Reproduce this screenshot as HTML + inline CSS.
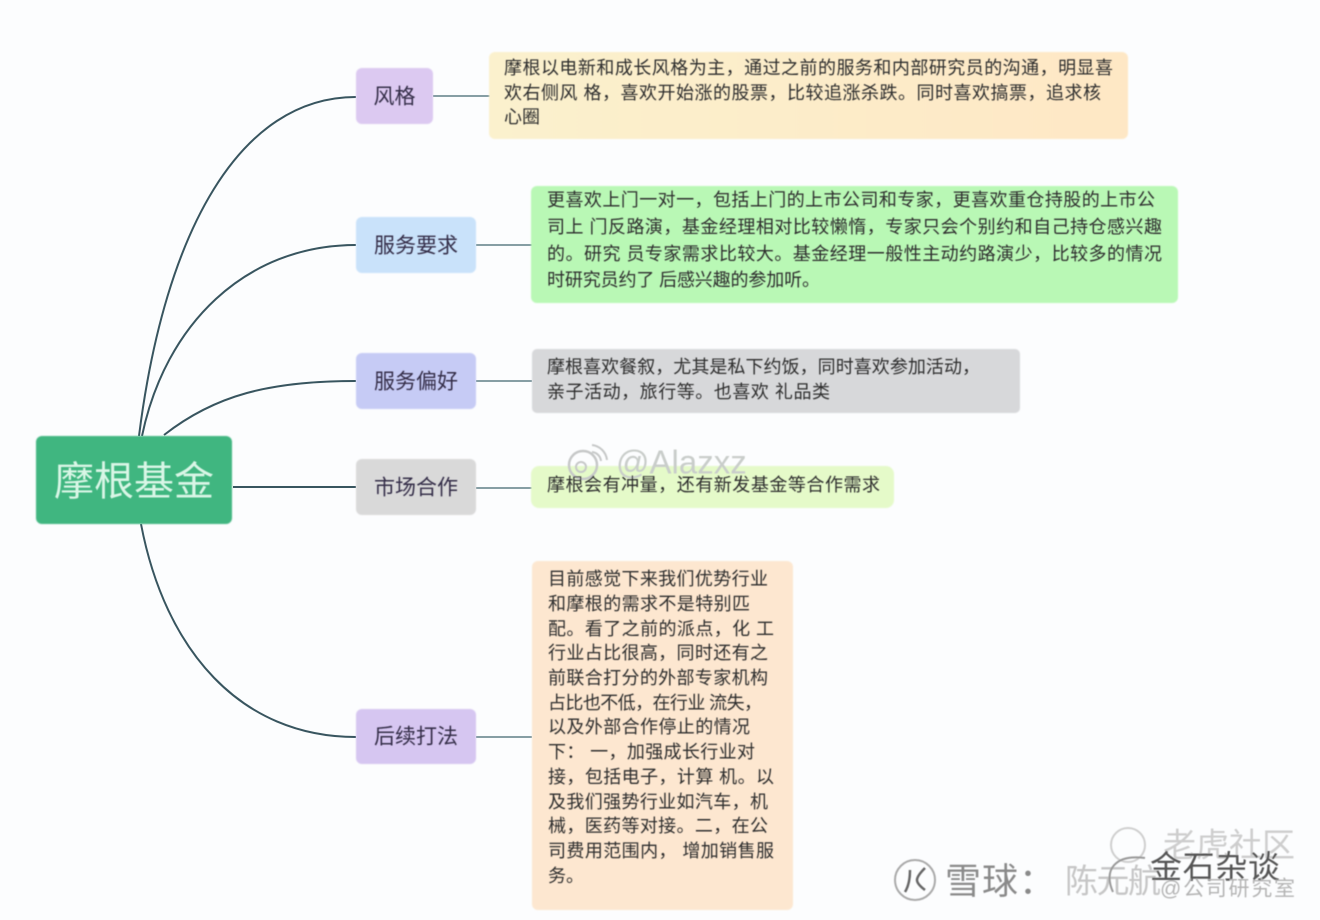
<!DOCTYPE html>
<html lang="zh">
<head>
<meta charset="utf-8">
<style>
html,body{margin:0;padding:0;background:#fcfdfe;width:1320px;height:920px;overflow:hidden}
svg{display:block}
text{font-family:"Liberation Sans","Noto Sans CJK SC",sans-serif;dominant-baseline:central}
.t{font-size:18px;fill:#2e2e2e}
.n{font-size:21px;fill:#352e48;text-anchor:middle}
.l{fill:none;stroke:#38555f;stroke-width:2}
.s{fill:none;stroke:#5f7f86;stroke-width:1.4}
</style>
</head>
<body>
<svg width="1320" height="920" viewBox="0 0 1320 920" xmlns="http://www.w3.org/2000/svg">
<defs>
<linearGradient id="g1" x1="0" y1="0" x2="1" y2="0"><stop offset="0" stop-color="#fbf1cd"/><stop offset="1" stop-color="#fee7c5"/></linearGradient>
<filter id="soft" x="-5%" y="-5%" width="110%" height="110%"><feGaussianBlur stdDeviation="0.4"/></filter>
<filter id="box" x="-5%" y="-5%" width="110%" height="110%"><feGaussianBlur stdDeviation="0.7"/></filter>
</defs>
<rect width="1320" height="920" fill="#fcfdfe"/>

<path class="l" d="M139 436C165 230 240 97 356 97"/>
<path class="l" d="M142 436C165 325 245 245 356 245"/>
<path class="l" d="M164 435C215 395 270 381 356 381"/>
<path class="l" d="M233 487H356"/>
<path class="l" d="M141 524C165 650 240 737 356 737"/>
<path class="s" d="M433 96H490M476 245H532M476 381H532M476 488H532M476 737H532"/>

<g filter="url(#box)">
<rect x="36" y="436" width="196" height="88" rx="6" fill="#3fb680"/>
<rect x="356" y="68" width="77" height="56" rx="6" fill="#dcc9f1"/>
<rect x="356" y="217" width="120" height="56" rx="6" fill="#c9e2fa"/>
<rect x="356" y="353" width="120" height="56" rx="6" fill="#c6cbf5"/>
<rect x="356" y="459" width="120" height="56" rx="6" fill="#d9d9d9"/>
<rect x="356" y="709" width="120" height="55" rx="6" fill="#d6c6f1"/>
<rect x="489" y="52" width="639" height="87" rx="6" fill="url(#g1)"/>
<rect x="531" y="186" width="647" height="117" rx="6" fill="#b9f8b5"/>
<rect x="532" y="349" width="488" height="64" rx="5" fill="#d7d8da"/>
<rect x="531" y="466" width="363" height="42" rx="8" fill="#e5fac9"/>
<rect x="532" y="561" width="261" height="349" rx="6" fill="#fde7d0"/>
</g>

<g filter="url(#soft)">
<text x="134" y="482" text-anchor="middle" font-size="40" fill="#d9f6e6" textLength="160" lengthAdjust="spacing">摩根基金</text>
<text class="n" x="394.500" y="97">风格</text>
<text class="n" x="416" y="246">服务要求</text>
<text class="n" x="416" y="382">服务偏好</text>
<text class="n" x="416" y="488">市场合作</text>
<text class="n" x="416" y="737">后续打法</text>

<text class="t" x="504" y="68" textLength="609" lengthAdjust="spacing">摩根以电新和成长风格为主，通过之前的服务和内部研究员的沟通，明显喜</text>
<text class="t" x="504" y="93" textLength="597" lengthAdjust="spacing">欢右侧风 格，喜欢开始涨的股票，比较追涨杀跌。同时喜欢搞票，追求核</text>
<text class="t" x="504" y="117" textLength="36" lengthAdjust="spacing">心圈</text>

<text class="t" x="547" y="200" textLength="608" lengthAdjust="spacing">更喜欢上门一对一，包括上门的上市公司和专家，更喜欢重仓持股的上市公</text>
<text class="t" x="547" y="227" textLength="615" lengthAdjust="spacing">司上 门反路演，基金经理相对比较懒惰，专家只会个别约和自己持仓感兴趣</text>
<text class="t" x="547" y="254" textLength="615" lengthAdjust="spacing">的。研究 员专家需求比较大。基金经理一般性主动约路演少，比较多的情况</text>
<text class="t" x="547" y="280" textLength="273" lengthAdjust="spacing">时研究员约了 后感兴趣的参加听。</text>

<text class="t" x="547" y="367" textLength="433" lengthAdjust="spacing">摩根喜欢餐叙，尤其是私下约饭，同时喜欢参加活动，</text>
<text class="t" x="547" y="392" textLength="283" lengthAdjust="spacing">亲子活动，旅行等。也喜欢 礼品类</text>

<text x="616" y="462" font-size="33" fill="#c9cdca">@Alazxz</text>
<circle cx="583" cy="465" r="14" fill="none" stroke="#c6c8c8" stroke-width="2.500"/>
<circle cx="581" cy="467" r="5" fill="none" stroke="#c6c8c8" stroke-width="2"/>
<path d="M592 445a17 17 0 0 1 15 15M592 452a10 10 0 0 1 9 9" fill="none" stroke="#c6c8c8" stroke-width="2"/>
<text class="t" x="547" y="485" textLength="333" lengthAdjust="spacing">摩根会有冲量，还有新发基金等合作需求</text>

<text class="t" x="548" y="579" textLength="220" lengthAdjust="spacing">目前感觉下来我们优势行业</text>
<text class="t" x="548" y="604" textLength="202" lengthAdjust="spacing">和摩根的需求不是特别匹</text>
<text class="t" x="548" y="629" textLength="226" lengthAdjust="spacing">配。看了之前的派点，化 工</text>
<text class="t" x="548" y="653" textLength="220" lengthAdjust="spacing">行业占比很高，同时还有之</text>
<text class="t" x="548" y="678" textLength="220" lengthAdjust="spacing">前联合打分的外部专家机构</text>
<text class="t" x="548" y="703" textLength="214" lengthAdjust="spacing">占比也不低，在行业 流失，</text>
<text class="t" x="548" y="727" textLength="202" lengthAdjust="spacing">以及外部合作停止的情况</text>
<text class="t" x="548" y="752" textLength="207" lengthAdjust="spacing">下： 一，加强成长行业对</text>
<text class="t" x="548" y="777" textLength="226" lengthAdjust="spacing">接，包括电子，计算 机。以</text>
<text class="t" x="548" y="802" textLength="220" lengthAdjust="spacing">及我们强势行业如汽车，机</text>
<text class="t" x="548" y="826" textLength="220" lengthAdjust="spacing">械，医药等对接。二，在公</text>
<text class="t" x="548" y="851" textLength="226" lengthAdjust="spacing">司费用范围内， 增加销售服</text>
<text class="t" x="548" y="876">务。</text>

<circle cx="915" cy="880" r="20" fill="none" stroke="#aaa" stroke-width="2"/>
<path d="M905 892q5-8 5-22M925 868q-8 8-8 12t8 10" fill="none" stroke="#666" stroke-width="2.500"/>
<text x="945" y="881" font-size="36" fill="#8a8a8a" textLength="110" lengthAdjust="spacing">雪球：</text>
<text x="1065" y="881" font-size="33" fill="#c6c6c6" textLength="96" lengthAdjust="spacing">陈元航</text>
<circle cx="1128" cy="845" r="17" fill="none" stroke="#cfcfcf" stroke-width="2"/>
<path d="M1145 858c-30-4-42 12-32 34" fill="none" stroke="#999" stroke-width="2"/>
<text x="1163" y="845" font-size="33" fill="#cdcdcd" textLength="132" lengthAdjust="spacing">老虎社区</text>
<text x="1150" y="867" font-size="32" fill="#555" textLength="130" lengthAdjust="spacing">金石杂谈</text>
<text x="1160" y="889" font-size="21" fill="#b4b4b4" textLength="135" lengthAdjust="spacing">@公司研究室</text>
</g>
</svg>
</body>
</html>
